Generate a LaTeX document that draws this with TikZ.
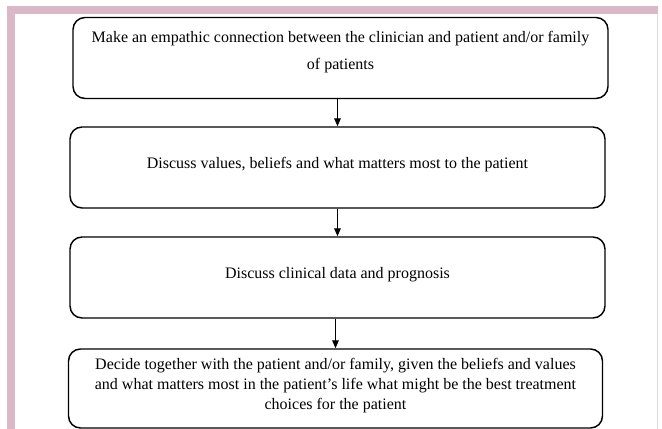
\documentclass[tikz,border=0pt]{standalone}
\usepackage{fontspec}
\setmainfont{Liberation Serif}
\usetikzlibrary{arrows.meta}

\definecolor{framepink}{RGB}{218,184,199}

\tikzset{
    stepbox/.style={draw, line width=1.1pt, rounded corners=9pt,
        minimum width=401.25pt, minimum height=60.75pt},
    boxtext/.style={align=center, font=\fontsize{12}{13.8}\selectfont},
    flow/.style={line width=0.8pt, -{Triangle[length=6pt,width=5pt]}}
}

\begin{document}
\begin{tikzpicture}[x=0.75pt,y=0.75pt]
    \useasboundingbox (0,0) rectangle (662,429);

    % page frame
    \fill[framepink] (7,415) rectangle (658,423);
    \fill[framepink] (7,0) rectangle (15,423);
    \draw[framepink!60,line width=0.75pt] (657.5,415) -- (657.5,0);

    \node[stepbox] (b1) at (340.5,371) {};
    \node[stepbox] (b2) at (337.5,261.5) {};
    \node[stepbox] (b3) at (337.5,151.5) {};
    \node[stepbox,minimum width=400.5pt,minimum height=59.25pt] (b4) at (335.5,40.5) {};

    \node[boxtext,font=\fontsize{12}{20.7}\selectfont,yshift=4.5pt] (t1) at (b1)
        {Make an empathic connection between the clinician and patient and/or family\\of patients};
    \node[boxtext,yshift=2pt] (t2) at (b2)
        {Discuss values, beliefs and what matters most to the patient};
    \node[boxtext,yshift=2pt] (t3) at (b3)
        {Discuss clinical data and prognosis};
    \node[boxtext,font=\fontsize{12}{15}\selectfont,yshift=2pt] (t4) at (b4)
        {Decide together with the patient and/or family, given the beliefs and values\\
         and what matters most in the patient’s life what might be the best treatment\\
         choices for the patient};

    \draw[flow] (b1.south -| b2.north) -- (b2.north);
    \draw[flow] (b2.south) -- (b3.north);
    \draw[flow] (b3.south -| b4.north) -- (b4.north);
\end{tikzpicture}
\end{document}
